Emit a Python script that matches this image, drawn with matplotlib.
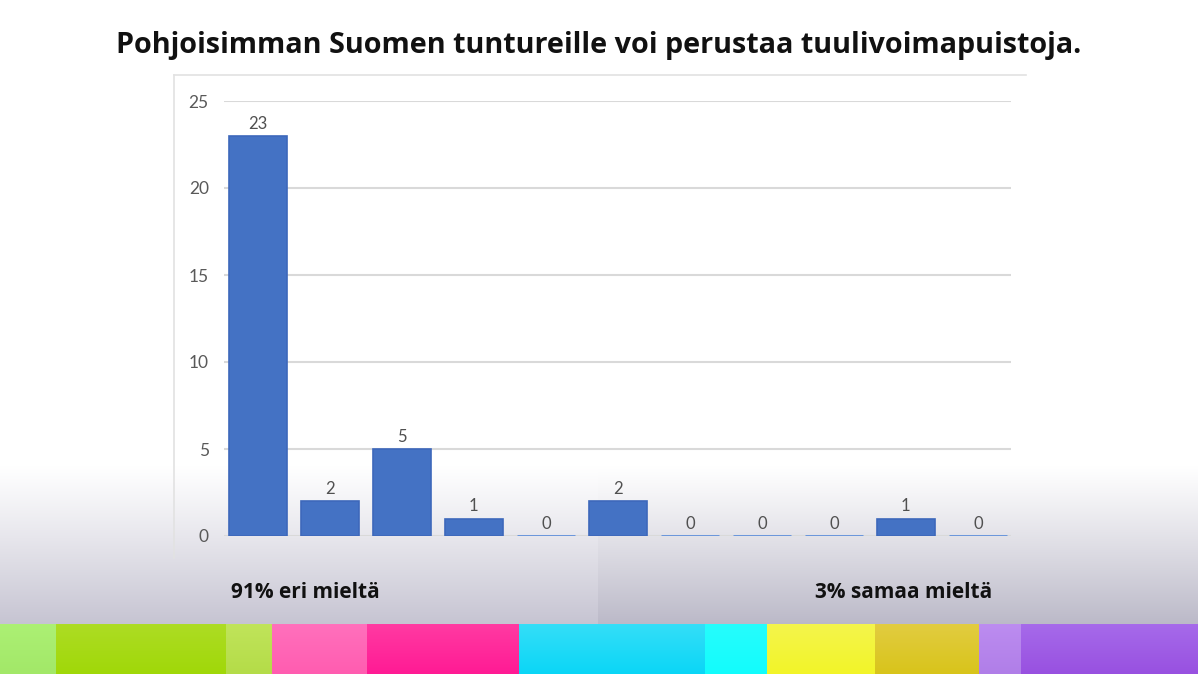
import numpy as np
import matplotlib
matplotlib.use("Agg")
import matplotlib.pyplot as plt
from matplotlib.colors import to_rgb

# ---- data ----
categories = ["1", "2", "3", "4", "5", "6", "7", "8", "9", "10", "11"]
counts = [23, 2, 5, 1, 0, 2, 0, 0, 0, 1, 0]
y_ticks = [0, 5, 10, 15, 20, 25]
title = "Pohjoisimman Suomen tuntureille voi perustaa tuulivoimapuistoja."
left_label = "91% eri mieltä"
right_label = "3% samaa mieltä"

W, H = 1198, 674
fig = plt.figure(figsize=(W / 100, H / 100), dpi=100)

# ---- background decoration (pixel coordinates) ----
bg = fig.add_axes([0, 0, 1, 1])
bg.set_xlim(0, W)
bg.set_ylim(H, 0)
bg.axis("off")

img = np.ones((H, W, 3))
ys = np.arange(H)
t = np.clip((ys - 465) / (624 - 465), 0, 1) ** 1.1
left_end = np.array(to_rgb("#c6c4d2"))
right_end = np.array(to_rgb("#bbb9c8"))
for c in range(3):
    colL = 1 + (left_end[c] - 1) * t
    colR = 1 + (right_end[c] - 1) * t
    img[:, :598, c] = colL[:, None]
    img[:, 598:, c] = colR[:, None]

strip = [(0, 56, "#acf074", "#a2e868"), (56, 226, "#addc24", "#a0d808"),
         (226, 272, "#c0e45a", "#b4dc48"), (272, 367, "#ff70bc", "#ff5cb0"),
         (367, 519, "#ff3aa2", "#ff1a94"), (519, 705, "#34def8", "#0ad6f6"),
         (705, 767, "#26fcfc", "#12fcfc"), (767, 875, "#f4f44c", "#f2f428"),
         (875, 979, "#e2cc40", "#d8c41a"), (979, 1021, "#bc8cf0", "#b07ee8"),
         (1021, 1198, "#a66aea", "#9850e0")]
sy = np.arange(624, H)
ts = (sy - 624) / (H - 624)
for x0, x1, ctop, cbot in strip:
    a, b = np.array(to_rgb(ctop)), np.array(to_rgb(cbot))
    for c in range(3):
        img[624:, x0:x1, c] = (a[c] + (b[c] - a[c]) * ts)[:, None]

bg.imshow(img, extent=(0, W, H, 0), aspect="auto", interpolation="nearest")

# screenshot frame lines
bg.plot([174, 174], [75, 558], color="#e2e2e2", lw=1.2)
bg.plot([174, 1026], [75, 75], color="#e2e2e2", lw=1.2)

# ---- titles / labels ----
fig.text(0.5, 1 - 45 / H, title, ha="center", va="center",
         fontsize=20.7, fontweight="bold", family="Open Sans", color="#111111")
fig.text(305 / W, 1 - 593 / H, left_label, ha="center", va="center",
         fontsize=15, fontweight="bold", family="Open Sans", color="#111111")
fig.text(904 / W, 1 - 593 / H, right_label, ha="center", va="center",
         fontsize=15, fontweight="bold", family="Open Sans", color="#111111")

# ---- chart ----
ax_left, ax_right, ax_top, ax_bot = 224, 1011, 101, 536
ax = fig.add_axes([ax_left / W, 1 - ax_bot / H, (ax_right - ax_left) / W,
                   (ax_bot - ax_top) / H])
ax.patch.set_alpha(0)
x = np.arange(len(categories))
nonzero = [v if v > 0 else np.nan for v in counts]
ax.bar(x, nonzero, width=0.8, color="#4472c4", edgecolor="#3d68bb",
       linewidth=1.2, zorder=3)
for i, v in enumerate(counts):
    if v == 0:
        ax.plot([i - 0.4, i + 0.4], [0, 0], color="#5f8fdc", lw=2, zorder=4,
                solid_capstyle="butt")
    ax.annotate(str(v), (i, v), xytext=(0, 3), textcoords="offset points",
                ha="center", va="bottom", fontsize=12, color="#505050",
                family="Lato")

ax.set_xlim(-0.47, len(categories) - 1 + 0.46)
ax.set_ylim(0, 25)
ax.set_yticks(y_ticks)
ax.set_xticks([])
ax.grid(axis="y", color="#d9d9d9", lw=1.5, zorder=0)
for s in ax.spines.values():
    s.set_visible(False)
ax.tick_params(axis="y", length=0, pad=11, labelsize=12.5, labelcolor="#595959")
for lab in ax.get_yticklabels():
    lab.set_family("Lato")

fig.savefig("out.png", dpi=100)
